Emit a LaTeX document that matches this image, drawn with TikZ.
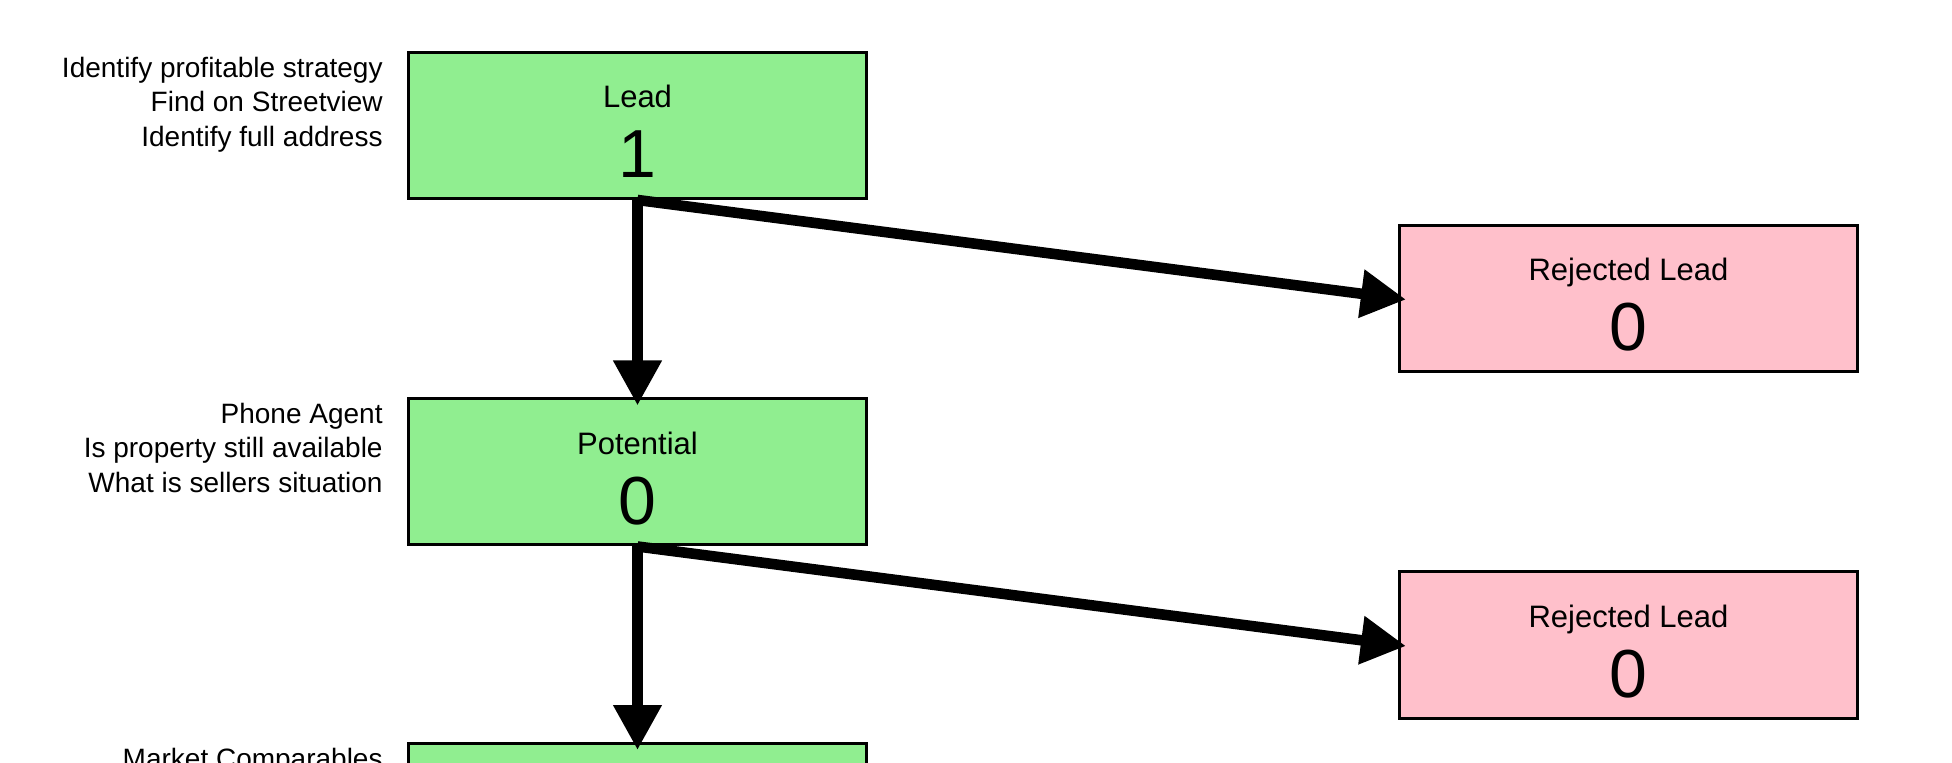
\documentclass[tikz,border=0pt]{standalone}
\usepackage{fontspec}
\setmainfont{Liberation Sans}
\usetikzlibrary{arrows.meta}
\definecolor{stagegreen}{HTML}{90EE90}
\definecolor{rejectpink}{HTML}{FFC0CB}
\begin{document}
	\begin{tikzpicture}[x=0.5pt,y=-0.5pt,
		box/.style={draw=black,line width=1.5pt,minimum width=229pt,minimum height=73pt,inner sep=0pt},
		stage/.style={box,fill=stagegreen},
		reject/.style={box,fill=rejectpink},
		boxtitle/.style={anchor=base,inner sep=0pt,font=\fontsize{15.5}{15.5}\selectfont},
		boxcount/.style={anchor=base,inner sep=0pt,font=\fontsize{34}{34}\selectfont},
		note/.style={anchor=north east,align=right,inner sep=0pt,font=\fontsize{14}{17.25}\selectfont},
		flow/.style={line width=5.3pt,-{Triangle[length=22.5pt,width=23pt]},shorten >=-4pt}]
		\useasboundingbox (0,0) rectangle (1952,763);
		\clip (0,0) rectangle (1952,763);
		% stages
		\node[stage] (lead) at (637.5,125.5) {};
		\node[stage] (potential) at (637.5,472) {};
		\node[stage] (stage3) at (637.5,816.5) {};
		\node[reject] (rejA) at (1628.5,298.5) {};
		\node[reject] (rejB) at (1628.5,645) {};
		\node[boxtitle] (leadtitle) at ([yshift=8.75pt]lead.center) {Lead};
		\node[boxcount] (leadcount) at ([yshift=-26.25pt]lead.center) {1};
		\node[boxtitle] (potentialtitle) at ([yshift=8.75pt]potential.center) {Potential};
		\node[boxcount] (potentialcount) at ([yshift=-26.25pt]potential.center) {0};
		\node[boxtitle] (rejAtitle) at ([yshift=8.75pt]rejA.center) {Rejected Lead};
		\node[boxcount] (rejAcount) at ([yshift=-26.25pt]rejA.center) {0};
		\node[boxtitle] (rejBtitle) at ([yshift=8.75pt]rejB.center) {Rejected Lead};
		\node[boxcount] (rejBcount) at ([yshift=-26.25pt]rejB.center) {0};
		% notes
		\node[note] (leadnote) at (383,56.5) {Identify profitable strategy\\Find on Streetview\\Identify full address};
		\node[note] (potentialnote) at (383,402.5) {Phone Agent\\Is property still available\\What is sellers situation};
		\node[note] (stage3note) at (383,747.5) {Market Comparables};
		% arrows
		\draw[flow] (lead.south) -- (potential.north);
		\draw[flow] (lead.south) -- (rejA.west);
		\draw[flow] (potential.south) -- (stage3.north);
		\draw[flow] (potential.south) -- (rejB.west);
	\end{tikzpicture}
\end{document}
